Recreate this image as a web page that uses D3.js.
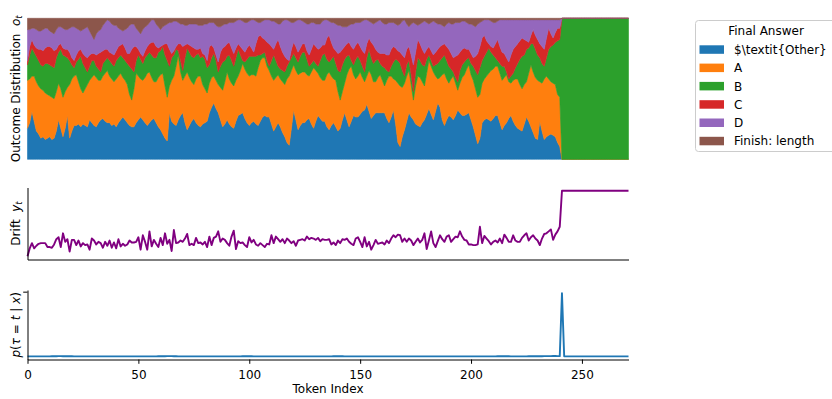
<!DOCTYPE html>
<html>
<head>
<meta charset="utf-8">
<script src="https://cdn.jsdelivr.net/npm/d3@7"></script>
<style>
  body { margin: 0; background: #fff; }
  text { font-family: "DejaVu Sans", sans-serif; }
</style>
</head>
<body>
<svg id="chart" width="832" height="399"></svg>
<script>
// ---- legend / series metadata ----
const answerKeys   = ["other", "A", "B", "C", "D", "finish"];
const answerLabels = ["$\\textit{Other}", "A", "B", "C", "D", "Finish: length"];
const answerColors = ["#1f77b4", "#ff7f0e", "#2ca02c", "#d62728", "#9467bd", "#8c564b"];
const xTicks = [0, 50, 100, 150, 200, 250];
const pTicks = [1];

// ---- outcome distribution o_t per token (percent) ----
const other = [
22,26,34,27,20,18,15,16,14,15, 16,14,15,20,28,22,16,22,31,15,
20,24,24,25,23,25,24,23,28,26, 24,23,26,28,29,27,26,26,24,25,
23,26,28,30,28,26,24,23,23,26, 28,30,28,26,24,26,28,29,26,23,
21,18,15,13,33,27,25,24,28,31, 33,26,21,24,27,29,26,24,23,25,
26,27,33,37,40,36,33,28,23,25, 28,25,23,22,27,31,32,33,29,26,
24,26,27,25,24,27,30,31,30,30, 25,20,23,26,23,19,16,12,10,22,
35,28,21,24,26,26,28,29,25,22, 27,31,29,27,27,23,21,24,26,23,
20,22,28,33,28,23,27,31,30,30, 32,34,35,39,34,29,31,33,33,33,
33,33,29,26,30,35,25,12,9,16, 21,27,33,30,28,25,24,23,26,28,
32,36,32,28,34,40,37,28,24,28, 31,30,28,31,35,33,31,31,32,33,
28,23,17,11,15,26,28,29,28,27, 29,31,31,26,21,24,26,29,31,27,
24,22,21,20,25,30,27,23,19,15, 14,27,20,14,16,17,18,17,16,12,
9,
0,0,0,0,0,0,0,0,0,0, 0,0,0,0,0,0,0,0,0,0, 0,0,0,0,0,0,0,0,0,0, 0
];
const ansA = [
34,31,25,32,35,34,35,33,33,31, 29,30,28,28,26,28,28,26,20,38,
37,35,36,30,27,22,26,30,28,32, 36,35,30,28,30,34,37,33,33,30,
34,33,33,28,28,27,22,19,27,35, 31,27,28,32,37,36,30,26,29,35,
39,43,37,31,19,29,34,42,46,31, 23,33,41,34,28,24,31,35,36,28,
24,20,21,21,19,20,20,23,26,30, 34,32,31,30,29,28,31,35,35,35,
35,34,33,34,41,43,42,41,36,33, 34,36,35,34,34,36,37,45,49,41,
32,35,39,37,36,36,32,30,37,43, 36,30,29,29,29,37,41,35,31,33,
28,20,20,21,32,41,39,29,27,29, 30,24,20,20,29,31,24,22,25,27,
23,19,27,33,29,22,31,42,43,35, 33,32,30,23,14,27,35,35,29,24,
29,34,34,34,25,17,21,32,37,29, 23,27,31,23,14,21,27,29,32,34,
32,33,33,33,31,28,29,30,33,36, 35,35,35,35,35,34,34,26,23,29,
33,35,32,30,28,25,34,44,43,43, 42,28,34,43,43,40,37,37,37,34,
35,
0,0,0,0,0,0,0,0,0,0, 0,0,0,0,0,0,0,0,0,0, 0,0,0,0,0,0,0,0,0,0, 0
];
const ansB = [
11,17,20,17,18,18,17,17,21,22, 22,22,22,24,22,28,30,25,21,17,
10,6,9,16,23,21,15,9,10,12, 10,8,8,6,9,9,9,11,11,11,
13,13,13,14,14,15,20,22,12,9, 15,14,12,14,13,14,16,17,17,18,
17,19,22,26,14,16,15,12,3,8, 7,13,17,18,18,19,17,16,13,20,
21,18,13,14,16,14,9,15,20,15, 11,17,16,14,16,19,11,2,5,10,
14,13,13,14,9,4,3,4,4,3, 11,18,12,6,7,8,9,9,10,9,
8,9,9,12,14,14,11,7,6,5, 5,5,12,18,19,11,7,12,16,12,
15,20,19,17,13,10,4,7,14,14, 8,8,7,13,15,12,13,15,13,8,
10,13,7,3,7,12,15,16,16,12, 5,8,7,7,6,10,13,12,12,14,
10,4,4,4,8,11,12,12,13,13, 12,7,3,4,6,9,9,9,7,5,
8,10,13,16,19,16,16,17,18,13, 10,6,4,7,10,8,2,2,5,5,
8,11,18,23,21,23,18,15,20,20, 18,17,14,9,13,21,25,27,30,38,
41,
100,100,100,100,100,100,100,100,100,100, 100,100,100,100,100,100,100,100,100,100,
100,100,100,100,100,100,100,100,100,100, 100
];
const ansC = [
3,6,6,5,6,8,11,11,11,12, 13,13,12,6,5,4,5,5,6,6,
5,5,5,6,5,7,8,10,8,5, 5,8,11,14,9,8,6,6,7,8,
7,8,7,10,9,7,9,14,18,10, 4,4,5,5,6,6,9,11,8,3,
3,1,8,12,12,3,3,2,5,12, 17,9,3,5,7,7,4,3,7,2,
3,5,13,9,4,4,7,10,10,10, 9,9,9,9,7,4,6,8,7,8,
8,6,3,9,13,14,11,9,13,16, 10,4,12,19,16,13,11,5,1,6,
8,8,7,6,6,6,6,8,10,12, 12,12,9,7,6,15,19,12,6,9,
12,14,11,9,9,9,10,11,10,10, 10,11,13,10,8,11,13,8,5,7,
9,10,11,12,12,11,8,7,8,11, 13,11,10,14,19,14,13,12,11,9,
7,6,7,8,9,10,10,9,8,10, 12,11,10,15,19,13,11,10,7,6,
7,6,10,15,15,16,15,8,3,4, 5,10,15,12,10,9,10,12,15,17,
15,14,13,13,11,6,4,6,10,10, 11,10,12,12,14,15,9,5,7,9,
8,
0,0,0,0,0,0,0,0,0,0, 0,0,0,0,0,0,0,0,0,0, 0,0,0,0,0,0,0,0,0,0, 0
];
const ansD = [
22,12,8,12,13,13,13,15,14,13, 11,11,12,14,13,12,14,14,14,17,
22,24,19,15,13,17,20,22,17,13, 10,15,16,16,18,19,21,22,21,21,
18,13,11,9,13,18,20,18,16,13, 13,14,19,17,15,15,16,16,16,15,
12,13,13,14,19,22,21,18,15,14, 16,14,13,15,16,17,18,17,16,20,
22,26,17,16,18,21,25,18,16,16, 14,14,18,22,19,17,19,20,21,18,
17,20,23,16,10,9,12,14,16,17, 18,20,15,11,16,22,26,28,28,19,
14,18,23,20,16,15,19,22,19,15, 16,18,17,17,18,13,10,14,18,19,
20,19,16,14,12,12,16,18,16,14, 17,21,24,17,12,14,15,19,22,24,
22,21,22,23,19,17,17,18,20,24, 27,18,14,22,30,20,10,14,19,23,
19,16,20,24,21,18,16,14,12,16, 19,21,24,24,23,21,20,19,19,18,
21,23,21,21,17,12,11,15,17,18, 18,15,13,19,23,24,27,30,25,21,
19,17,15,13,14,15,16,11,7,11, 14,17,19,21,13,6,10,13,9,6,
6,
0,0,0,0,0,0,0,0,0,0, 0,0,0,0,0,0,0,0,0,0, 0,0,0,0,0,0,0,0,0,0, 0
];
const finish = [
8,8,7,7,8,9,9,8,7,7, 9,10,11,8,6,6,7,8,8,7,
6,6,7,8,9,8,7,6,9,12, 15,11,9,8,5,3,1,2,4,5,
5,7,8,9,8,7,5,4,4,7, 9,11,8,6,5,3,1,1,4,6,
8,6,5,4,3,3,2,2,3,4, 4,5,5,4,4,4,4,5,5,5,
4,4,3,3,3,5,6,6,5,4, 4,3,3,3,2,1,1,2,3,3,
2,1,1,2,3,3,2,1,1,1, 2,2,3,4,4,2,1,1,2,3,
3,2,1,1,2,3,4,4,3,3, 4,4,4,2,1,1,2,3,3,4,
5,5,6,6,6,5,4,4,3,3, 3,2,1,1,2,3,4,3,2,1,
3,4,4,3,3,3,4,5,4,2, 1,4,6,4,3,4,5,4,3,2,
3,4,3,2,3,4,4,5,6,4, 3,4,4,3,3,3,2,2,3,4,
4,5,6,4,3,2,1,1,1,2, 3,3,2,1,1,1,1,1,1,1,
1,1,1,1,1,1,1,1,1,1, 1,1,1,1,1,1,1,1,1,1,
1,
0,0,0,0,0,0,0,0,0,0, 0,0,0,0,0,0,0,0,0,0, 0,0,0,0,0,0,0,0,0,0, 0
];

// ---- drift y_t per token ----
const drift = [
0.00,0.12,0.20,0.12,0.16,0.19,0.20,0.20,0.20,0.14, 0.14,0.13,0.18,0.26,0.29,0.14,0.35,0.22,0.26,0.07,
0.25,0.25,0.17,0.24,0.15,0.20,0.17,0.18,0.10,0.27, 0.24,0.18,0.22,0.20,0.13,0.22,0.16,0.24,0.13,0.21,
0.12,0.26,0.15,0.19,0.16,0.18,0.24,0.21,0.21,0.22, 0.29,0.10,0.32,0.22,0.10,0.38,0.15,0.25,0.19,0.14,
0.28,0.17,0.35,0.19,0.25,0.08,0.40,0.20,0.21,0.24, 0.22,0.27,0.34,0.17,0.19,0.17,0.28,0.20,0.21,0.18,
0.22,0.14,0.30,0.17,0.28,0.30,0.38,0.22,0.27,0.25, 0.20,0.16,0.30,0.39,0.11,0.23,0.20,0.21,0.17,0.14,
0.29,0.21,0.25,0.18,0.16,0.20,0.17,0.14,0.19,0.18, 0.32,0.20,0.30,0.26,0.22,0.26,0.20,0.27,0.24,0.20,
0.23,0.16,0.24,0.25,0.26,0.24,0.30,0.26,0.28,0.27, 0.25,0.28,0.23,0.26,0.25,0.25,0.26,0.18,0.21,0.17,
0.24,0.20,0.26,0.25,0.27,0.22,0.19,0.17,0.27,0.29, 0.22,0.14,0.29,0.15,0.22,0.10,0.17,0.25,0.19,0.20,
0.21,0.18,0.24,0.20,0.27,0.32,0.29,0.33,0.32,0.22, 0.27,0.22,0.27,0.24,0.17,0.22,0.27,0.21,0.25,0.35,
0.11,0.24,0.38,0.20,0.14,0.23,0.32,0.26,0.22,0.30, 0.32,0.22,0.26,0.30,0.29,0.38,0.30,0.25,0.24,0.18,
0.18,0.17,0.17,0.18,0.45,0.20,0.31,0.27,0.23,0.18, 0.22,0.24,0.21,0.27,0.20,0.33,0.28,0.22,0.22,0.32,
0.24,0.22,0.22,0.28,0.32,0.35,0.24,0.29,0.32,0.27, 0.24,0.17,0.27,0.34,0.35,0.38,0.41,0.25,0.33,0.38,
0.45,
1.00,1.00,1.00,1.00,1.00,1.00,1.00,1.00,1.00,1.00, 1.00,1.00,1.00,1.00,1.00,1.00,1.00,1.00,1.00,1.00,
1.00,1.00,1.00,1.00,1.00,1.00,1.00,1.00,1.00,1.00, 1.00
];

// ---- stopping distribution p(tau = t | x) ----
const pStop = [
0.001,0.001,0.001,0.001,0.001,0.001,0.001,0.001,0.001,0.001, 0.001,0.002,0.002,0.003,0.004,0.004,0.003,0.003,0.004,0.003,
0.002,0.001,0.001,0.001,0.001,0.001,0.001,0.001,0.001,0.001, 0.001,0.001,0.001,0.001,0.001,0.001,0.001,0.001,0.001,0.001,
0.001,0.001,0.001,0.001,0.001,0.001,0.001,0.001,0.001,0.001, 0.001,0.001,0.001,0.001,0.001,0.001,0.001,0.001,0.001,0.002,
0.002,0.003,0.003,0.004,0.005,0.004,0.003,0.002,0.001,0.001, 0.001,0.001,0.001,0.001,0.001,0.001,0.001,0.001,0.001,0.001,
0.001,0.001,0.001,0.001,0.001,0.001,0.001,0.001,0.001,0.001, 0.001,0.001,0.001,0.001,0.001,0.001,0.001,0.002,0.002,0.003,
0.003,0.002,0.001,0.001,0.001,0.001,0.001,0.001,0.001,0.001, 0.001,0.001,0.001,0.001,0.001,0.001,0.001,0.001,0.001,0.001,
0.001,0.001,0.001,0.001,0.001,0.001,0.001,0.001,0.001,0.001, 0.001,0.001,0.001,0.001,0.001,0.001,0.001,0.001,0.002,0.002,
0.003,0.002,0.002,0.001,0.001,0.001,0.001,0.001,0.001,0.001, 0.001,0.001,0.001,0.001,0.001,0.001,0.001,0.001,0.001,0.001,
0.001,0.001,0.001,0.001,0.001,0.001,0.001,0.001,0.001,0.001, 0.001,0.001,0.001,0.001,0.001,0.001,0.001,0.001,0.001,0.001,
0.001,0.001,0.001,0.001,0.001,0.001,0.001,0.001,0.001,0.001, 0.001,0.001,0.001,0.001,0.001,0.001,0.001,0.001,0.001,0.001,
0.001,0.001,0.001,0.001,0.001,0.001,0.001,0.001,0.001,0.001, 0.001,0.001,0.002,0.002,0.003,0.003,0.002,0.002,0.001,0.001,
0.001,0.001,0.001,0.001,0.001,0.001,0.002,0.002,0.002,0.002, 0.003,0.003,0.003,0.004,0.004,0.005,0.005,0.006,0.006,0.005,
0.004,
0.977,
0.001,0.001,0.001,0.001,0.001,0.001,0.001,0.001,0.001,0.001, 0.001,0.001,0.001,0.001,0.001,0.001,0.001,0.001,0.001,0.001,
0.001,0.001,0.001,0.001,0.001,0.001,0.001,0.001,0.001,0.001
];

// ---- layout ----
const svg = d3.select("#chart");
const FONT = 12;
const tokens = d3.range(other.length);

const x = d3.scaleLinear().domain([0, tokens.length - 1]).range([27.5, 628.5]);

// padded extent, like a default autoscaled axis
function padded(values) {
  const [lo, hi] = d3.extent(values);
  const m = (hi - lo) * 0.05;
  return [lo - m, hi + m];
}

// ---- panel 1: stacked outcome distribution ----
const yO = d3.scaleLinear().domain([0, 1]).range([159.3, 18.3]);
const rows = tokens.map(i => ({
  t: i, other: other[i], A: ansA[i], B: ansB[i], C: ansC[i], D: ansD[i], finish: finish[i]
}));
const stacked = d3.stack().keys(answerKeys).offset(d3.stackOffsetExpand)(rows);
const area = d3.area()
  .x(d => x(d.data.t))
  .y0(d => yO(d[0]))
  .y1(d => yO(d[1]));

svg.append("g").selectAll("path")
  .data(stacked)
  .join("path")
  .attr("d", area)
  .attr("fill", (d, i) => answerColors[i])
  .attr("stroke", (d, i) => answerColors[i])
  .attr("stroke-width", 0.6)
  .attr("stroke-linejoin", "round");

// ---- panel 2: drift ----
const yD = d3.scaleLinear().domain(padded(drift)).range([259.5, 187.5]);
svg.append("path")
  .datum(drift)
  .attr("d", d3.line().x((d, i) => x(i)).y(d => yD(d)))
  .attr("fill", "none")
  .attr("stroke", "#800080")
  .attr("stroke-width", 1.9)
  .attr("stroke-linejoin", "round");

svg.append("g").attr("transform", "translate(0,259.5)")
  .call(d3.axisBottom(x).tickValues([]).tickSizeOuter(0));
svg.append("g").attr("transform", "translate(27.5,0)")
  .call(d3.axisLeft(yD).tickValues([]).tickSizeOuter(0));

// ---- panel 3: stopping probability ----
const yP = d3.scaleLinear().domain(padded(pStop)).range([359.5, 290]);
svg.append("path")
  .datum(pStop)
  .attr("d", d3.line().x((d, i) => x(i)).y(d => yP(d)))
  .attr("fill", "none")
  .attr("stroke", "#1f77b4")
  .attr("stroke-width", 1.9)
  .attr("stroke-linejoin", "round");

svg.append("g").attr("transform", "translate(0,359.5)")
  .call(d3.axisBottom(x).tickValues(xTicks).tickFormat(d3.format("d"))
    .tickSize(4.3).tickPadding(6.5).tickSizeOuter(0));
svg.append("g").attr("transform", "translate(27.5,0)")
  .call(d3.axisLeft(yP).tickValues(pTicks).tickFormat(() => "")
    .tickSize(4.3).tickSizeOuter(0));

svg.selectAll(".domain").attr("stroke", "#000").attr("stroke-width", 1);
svg.selectAll(".tick line").attr("stroke", "#000").attr("stroke-width", 1);
svg.selectAll(".tick text")
  .attr("font-family", "DejaVu Sans, sans-serif")
  .attr("font-size", FONT).attr("fill", "#000");

// ---- axis labels ----
svg.append("text")
  .attr("x", 328).attr("y", 393.3)
  .attr("text-anchor", "middle").attr("font-size", FONT)
  .text("Token Index");

function yLabel(cy, parts) {
  const t = svg.append("text")
    .attr("transform", `translate(19.5,${cy}) rotate(-90)`)
    .attr("text-anchor", "middle")
    .attr("font-size", FONT);
  parts.forEach(p => {
    const s = t.append("tspan").text(p.text);
    if (p.italic) s.attr("font-style", "italic");
    if (p.sub) s.attr("font-size", FONT * 0.7).attr("dy", 2.5);
  });
}
yLabel(88.8, [
  { text: "Outcome Distribution\u00a0\u00a0" },
  { text: "o", italic: true },
  { text: "t", italic: true, sub: true }
]);
yLabel(223.5, [
  { text: "Drift\u00a0\u00a0" },
  { text: "y", italic: true },
  { text: "t", italic: true, sub: true }
]);
yLabel(324.8, [
  { text: "p", italic: true },
  { text: "(" },
  { text: "\u03c4", italic: true },
  { text: " = " },
  { text: "t", italic: true },
  { text: " | " },
  { text: "x", italic: true },
  { text: ")" }
]);

// ---- legend ----
const lg = svg.append("g");
lg.append("rect")
  .attr("x", 695.5).attr("y", 20.5)
  .attr("width", 150).attr("height", 131)
  .attr("rx", 3).attr("ry", 3)
  .attr("fill", "#fff").attr("fill-opacity", 0.8)
  .attr("stroke", "#cccccc").attr("stroke-width", 1);
lg.append("text")
  .attr("x", 766).attr("y", 35)
  .attr("text-anchor", "middle").attr("font-size", FONT)
  .text("Final Answer");
const entries = lg.selectAll("g.entry")
  .data(answerLabels)
  .join("g")
  .attr("class", "entry")
  .attr("transform", (d, i) => `translate(0,${49.5 + i * 18.3})`);
entries.append("rect")
  .attr("x", 699.5).attr("y", -4.2)
  .attr("width", 24.5).attr("height", 8.5)
  .attr("fill", (d, i) => answerColors[i]);
entries.append("text")
  .attr("x", 734).attr("y", 4.4)
  .attr("font-size", FONT)
  .text(d => d);
</script>
</body>
</html>
